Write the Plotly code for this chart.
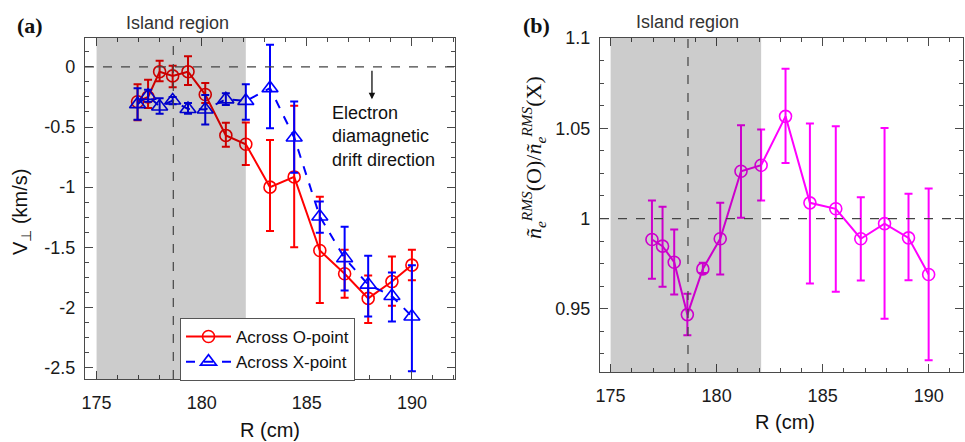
import plotly.graph_objects as go

# ---------------- data ----------------
R = [176.95, 177.45, 178.0, 178.62, 179.35, 180.17, 181.15, 182.1,
     183.25, 184.4, 185.62, 186.8, 187.92, 189.05, 190.0]

# (a) perpendicular velocity across the O-point
v_o = [-0.29, -0.25, -0.04, -0.075, -0.04, -0.23, -0.57, -0.643,
       -1.0, -0.915, -1.527, -1.72, -1.925, -1.785, -1.648]
v_o_hi = [-0.144, -0.108, 0.05, 0.01, 0.088, -0.135, -0.465, -0.463,
          -0.608, -0.324, -1.08, -1.52, -1.735, -1.577, -1.52]
v_o_lo = [-0.444, -0.343, -0.12, -0.17, -0.15, -0.30, -0.665, -0.815,
          -1.365, -1.5, -1.964, -1.92, -2.13, -1.987, -1.775]

# (a) perpendicular velocity across the X-point
v_x = [-0.31, -0.24, -0.33, -0.28, -0.35, -0.355, -0.27, -0.283,
       -0.177, -0.587, -1.244, -1.59, -1.81, -1.905, -2.075]
v_x_hi = [-0.177, -0.19, -0.26, -0.25, -0.30, -0.233, -0.22, -0.144,
          0.183, -0.288, -1.12, -1.33, -1.571, -1.71, -1.65]
v_x_lo = [-0.44, -0.29, -0.39, -0.31, -0.39, -0.48, -0.316, -0.44,
          -0.51, -0.88, -1.38, -1.86, -2.075, -2.117, -2.53]

# (b) ratio of RMS density fluctuation, O-point over X-point
ratio = [0.9884, 0.9847, 0.9758, 0.9468, 0.9721, 0.9888, 1.0262, 1.0295,
         1.0566, 1.0087, 1.0054, 0.9888, 0.9972, 0.9893, 0.969]
ratio_hi = [1.0100, 1.0065, 0.9939, 0.9583, 0.9755, 1.0087, 1.0517, 1.0493,
            1.0830, 1.0526, 1.0511, 1.0118, 1.0502, 1.0137, 1.0166]
ratio_lo = [0.9666, 0.9622, 0.9579, 0.9354, 0.9699, 0.9690, 1.0004, 1.0100,
            1.0308, 0.9640, 0.9594, 0.9657, 0.9445, 0.9658, 0.9215]

island = [175.0, 182.1]      # island region in R (cm)
o_point_R = 178.65           # O-point location

x_ticks = [175, 180, 185, 190]
ya_ticks = [0, -0.5, -1, -1.5, -2, -2.5]
ya_text = ["0", "-0.5", "-1", "-1.5", "-2", "-2.5"]
yb_ticks = [0.95, 1.0, 1.05, 1.1]
yb_text = ["0.95", "1", "1.05", "1.1"]

# ---------------- figure ----------------
W, H = 965, 442
SANS = "Liberation Sans, Arial, sans-serif"
SERIF = "Liberation Serif, Times New Roman, serif"


def px(x):
    return x / W


def py(y):
    return (H - y) / H


def err(vals, hi, lo):
    return dict(type="data", symmetric=False,
                array=[h - v for h, v in zip(hi, vals)],
                arrayminus=[v - l for v, l in zip(vals, lo)],
                width=4, thickness=2)


fig = go.Figure()

e = err(v_o, v_o_hi, v_o_lo)
e["color"] = "#ff0000"
fig.add_trace(go.Scatter(
    x=R, y=v_o, mode="lines+markers", name="Across O-point",
    line=dict(color="#ff0000", width=2),
    marker=dict(symbol="circle-open", size=12, color="#ff0000", line=dict(width=1.6)),
    error_y=e, xaxis="x", yaxis="y"))

e = err(v_x, v_x_hi, v_x_lo)
e["color"] = "#0000ff"
fig.add_trace(go.Scatter(
    x=R, y=v_x, mode="lines+markers", name="Across X-point",
    line=dict(color="#0000ff", width=2, dash="dash"),
    marker=dict(symbol="triangle-up-open", size=14, color="#0000ff", line=dict(width=1.6)),
    error_y=e, xaxis="x", yaxis="y"))

e = err(ratio, ratio_hi, ratio_lo)
e["color"] = "#ff00ff"
fig.add_trace(go.Scatter(
    x=R, y=ratio, mode="lines+markers", showlegend=False,
    line=dict(color="#ff00ff", width=2),
    marker=dict(symbol="circle-open", size=12, color="#ff00ff", line=dict(width=1.6)),
    error_y=e, xaxis="x2", yaxis="y2"))

axis_common = dict(
    showline=True, linecolor="#4a4a4a", linewidth=1.4, mirror="allticks",
    ticks="inside", ticklen=8, tickwidth=1.2, tickcolor="#4a4a4a",
    showgrid=False, zeroline=False, automargin=False,
    tickfont=dict(family=SANS, size=18, color="#1a1a1a"),
)
x_minor = dict(tickmode="linear", tick0=175, dtick=1, ticks="inside",
               ticklen=4, tickcolor="#4a4a4a", showgrid=False)

fig.update_layout(
    template="none",
    width=W, height=H, margin=dict(l=0, r=0, t=0, b=0, pad=0),
    paper_bgcolor="white", plot_bgcolor="white",
    font=dict(family=SANS, color="#111"),
    xaxis=dict(axis_common, domain=[px(85), px(455)], range=[174.45, 192.05],
               tickmode="array", tickvals=x_ticks, anchor="y",
               ticklabelstandoff=7, minor=x_minor),
    yaxis=dict(axis_common, domain=[py(379), py(38)], range=[-2.595, 0.24],
               tickmode="array", tickvals=ya_ticks, ticktext=ya_text, anchor="x",
               ticklabelstandoff=5,
               minor=dict(tickmode="linear", tick0=0, dtick=0.125, ticks="inside",
                          ticklen=4, tickcolor="#4a4a4a", showgrid=False)),
    xaxis2=dict(axis_common, domain=[px(600), px(963)], range=[174.5, 191.62],
                tickmode="array", tickvals=x_ticks, anchor="y2",
                ticklabelstandoff=7, minor=x_minor),
    yaxis2=dict(axis_common, domain=[py(372), py(38)], range=[0.915, 1.1],
                tickmode="array", tickvals=yb_ticks, ticktext=yb_text, anchor="x2",
                ticklabelstandoff=5,
                minor=dict(tickmode="linear", tick0=1.0, dtick=0.0125, ticks="inside",
                           ticklen=4, tickcolor="#4a4a4a", showgrid=False)),
    legend=dict(x=px(180), y=py(318), xanchor="left", yanchor="top",
                bgcolor="white", bordercolor="#555", borderwidth=1,
                font=dict(family=SANS, size=17, color="#111"),
                itemwidth=45, tracegroupgap=0),
)

# shaded island region and dashed reference lines
dash_line = dict(color="#444", width=1.2, dash="dash")
for xa, ya, yref0 in (("x", "y", 0.0), ("x2", "y2", 1.0)):
    fig.add_shape(type="rect", xref=xa, yref=f"{ya} domain",
                  x0=island[0], x1=island[1], y0=0, y1=1,
                  fillcolor="rgba(0,0,0,0.2)", line=dict(width=0), layer="above")
    fig.add_shape(type="line", xref=f"{xa} domain", yref=ya,
                  x0=0, x1=1, y0=yref0, y1=yref0, line=dash_line, layer="above")
    fig.add_shape(type="line", xref=xa, yref=f"{ya} domain",
                  x0=o_point_R, x1=o_point_R, y0=0, y1=1, line=dash_line, layer="above")


def label(text, x, y, size, family=SANS, color="#111", angle=0):
    return dict(text=text, x=px(x), y=py(y), xref="paper", yref="paper",
                xanchor="center", yanchor="middle", textangle=angle,
                showarrow=False, font=dict(family=family, size=size, color=color))


ann = [
    # panel letters
    label("<b>(a)</b>", 30, 25, 22, SERIF),
    label("<b>(b)</b>", 536, 25, 22, SERIF),
    # island region labels
    label("Island region", 177, 23, 18, color="#333"),
    label("Island region", 687, 22, 18, color="#333"),
    # axis titles
    label("R (cm)", 270, 430, 20),
    label("R (cm)", 785, 422, 20),
    label("V<sub>⊥</sub> (km/s)", 22, 212, 20, angle=-90),
    label("<i>ñ</i><sub><i>e</i></sub><sup><i>RMS</i></sup>(O)/"
          "<i>ñ</i><sub><i>e</i></sub><sup><i>RMS</i></sup>(X)",
          534, 158, 22, SERIF, angle=-90),
]
# drift-direction note with arrow
ann.append(dict(text="Electron<br>diamagnetic<br>drift direction", x=186.1, y=-0.28,
                xref="x", yref="y", xanchor="left", yanchor="top", align="left",
                showarrow=False, font=dict(family=SANS, size=18, color="#111")))
ann.append(dict(x=188.1, y=-0.27, ax=188.1, ay=-0.02, xref="x", yref="y",
                axref="x", ayref="y", text="", showarrow=True,
                arrowhead=2, arrowsize=1, arrowwidth=1.3, arrowcolor="#111"))
fig.update_layout(annotations=ann)

fig.write_html("out.html")
